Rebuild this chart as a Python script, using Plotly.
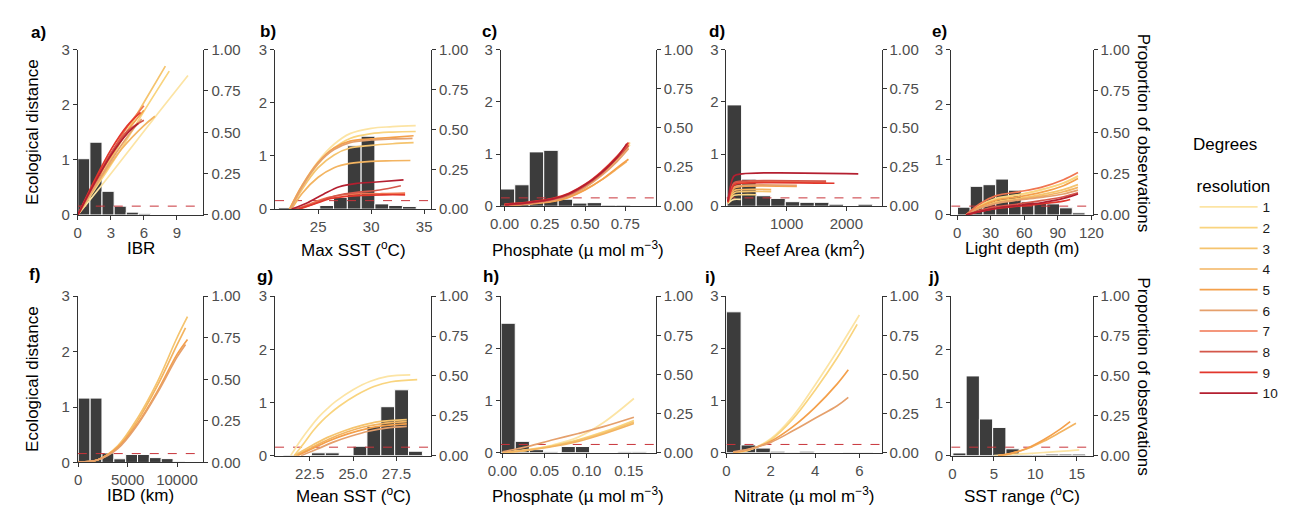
import plotly.graph_objects as go

W, H = 1290, 513

# ---------------- shared ----------------
RESOLUTIONS = [1, 2, 3, 4, 5, 6, 7, 8, 9, 10]
RES_COLORS = ["#FCE4A4", "#F9D47E", "#F5C46E", "#F3B461", "#F4A04B",
              "#E5A06C", "#F07550", "#D4574A", "#E2372C", "#B41F30"]
THRESHOLD = 0.16          # dashed reference line (ecological distance)
LEFT_TICKS = [0, 1, 2, 3]
RIGHT_TICKS = [0, 0.25, 0.5, 0.75, 1.0]

PANEL_LETTERS = ["a)", "b)", "c)", "d)", "e)", "f)", "g)", "h)", "i)", "j)"]
X_TITLES = ["IBR", "Max SST (<sup>o</sup>C)", "Phosphate (\u00b5 mol m<sup>\u22123</sup>)",
            "Reef Area (km<sup>2</sup>)", "Light depth (m)", "IBD (km)",
            "Mean SST (<sup>o</sup>C)", "Phosphate (\u00b5 mol m<sup>\u22123</sup>)",
            "Nitrate (\u00b5 mol m<sup>\u22123</sup>)", "SST range (<sup>o</sup>C)"]
X_RANGES = [[0, 11.4], [20.93, 35.65], [-0.024, 0.94], [-10, 2590], [-5.3, 121],
            [-50, 12670], [20.5, 29.5], [-0.002, 0.182], [0, 7.0], [-0.15, 16.9]]
X_TICKS = [[0, 3, 6, 9], [25, 30, 35], [0, 0.25, 0.5, 0.75], [1000, 2000],
           [0, 30, 60, 90, 120], [0, 5000, 10000], [22.5, 25.0, 27.5],
           [0, 0.05, 0.10, 0.15], [0, 2, 4, 6], [0, 5, 10, 15]]
X_TICKFORMAT = ["d", "d", ".2f", "d", "d", "d", ".1f", ".2f", "d", "d"]

# ---------------- histograms (proportion of observations) ----------------
A_BINS = [0.55, 1.65, 2.75, 3.85, 4.95, 6.05]
A_PROP = [0.34, 0.44, 0.143, 0.053, 0.017, 0.007]
A_WIDTH = 1.1

B_BINS = [21.9, 23.2, 24.5, 25.8, 27.1, 28.4, 29.7, 31.0, 32.3, 33.6]
B_PROP = [0.01, 0.0, 0.0, 0.023, 0.073, 0.397, 0.457, 0.033, 0.023, 0.017]
B_WIDTH = 1.3

C_BINS = [0.018, 0.108, 0.198, 0.288, 0.378, 0.468, 0.558, 0.648, 0.738]
C_PROP = [0.11, 0.137, 0.347, 0.357, 0.045, 0.02, 0.023, 0.007, 0.007]
C_WIDTH = 0.09

D_BINS = [122, 366, 610, 854, 1098, 1342, 1586, 1830, 2074, 2318]
D_PROP = [0.647, 0.173, 0.067, 0.05, 0.029, 0.025, 0.025, 0.013, 0.0, 0.013]
D_WIDTH = 244

E_BINS = [6, 17.4, 28.8, 40.2, 51.6, 63.0, 74.4, 85.8, 97.2, 108.6]
E_PROP = [0.047, 0.173, 0.183, 0.217, 0.15, 0.08, 0.073, 0.067, 0.043, 0.013]
E_WIDTH = 11.4

F_BINS = [600, 1800, 3000, 4200, 5400, 6600, 7800, 9000, 10200]
F_PROP = [0.387, 0.387, 0.057, 0.022, 0.048, 0.048, 0.029, 0.023, 0.004]
F_WIDTH = 1200

G_BINS = [21.4, 22.2, 23.0, 23.8, 24.6, 25.4, 26.2, 27.0, 27.8, 28.6]
G_PROP = [0.004, 0.0, 0.018, 0.018, 0.004, 0.059, 0.183, 0.307, 0.413, 0.028]
G_WIDTH = 0.8

H_BINS = [0.0068, 0.0236, 0.0404, 0.0572, 0.0782, 0.095, 0.1118, 0.1286, 0.1454, 0.1622]
H_PROP = [0.827, 0.073, 0.02, 0.007, 0.04, 0.04, 0.0, 0.0, 0.007, 0.007]
H_WIDTH = 0.0168

I_BINS = [0.33, 0.99, 1.65, 2.31, 2.97, 3.63, 4.29, 4.95, 5.61, 6.27]
I_PROP = [0.9, 0.05, 0.03, 0.01, 0.003, 0.01, 0.0, 0.0, 0.003, 0.003]
I_WIDTH = 0.66

J_BINS = [0.85, 2.45, 4.05, 5.65, 7.25, 8.85, 10.45, 12.05, 13.65, 15.25]
J_PROP = [0.017, 0.5, 0.23, 0.177, 0.043, 0.007, 0.007, 0.01, 0.01, 0.01]
J_WIDTH = 1.6

# ---------------- fitted curves (ecological distance), by resolution ----------------
A_LINES = {
    1: ([0, 2.5, 5, 7.5, 10.0], [0, 0.62, 1.26, 1.9, 2.53]),
    2: ([0, 2, 4, 6, 8.3], [0, 0.6, 1.22, 1.88, 2.61]),
    3: ([0, 2, 4, 6, 7.95], [0, 0.66, 1.36, 2.04, 2.70]),
    4: ([0, 2, 4, 6, 7.0], [0, 0.64, 1.2, 1.62, 1.79]),
    5: ([0, 1.5, 3, 4.5, 6.0], [0, 0.55, 1.06, 1.52, 1.9]),
    6: ([0, 1.5, 3, 4.5, 5.8], [0, 0.5, 0.98, 1.42, 1.74]),
    7: ([0, 1.5, 3, 4.5, 6.0], [0, 0.56, 1.1, 1.6, 1.98]),
    8: ([0, 1.5, 3, 4.5, 6.0], [0, 0.58, 1.12, 1.52, 1.72]),
    9: ([0, 1.5, 3, 4.5, 5.7], [0, 0.62, 1.18, 1.62, 1.86]),
    10: ([0, 1.5, 3, 4.5, 5.5], [0, 0.57, 1.08, 1.48, 1.66]),
}
B_LINES = {
    1: ([22.3, 23.5, 25, 26.5, 28, 30, 32, 34.2], [0, 0.45, 0.9, 1.22, 1.42, 1.52, 1.55, 1.57]),
    2: ([22.3, 23.5, 25, 26.5, 28, 30, 32, 34.2], [0, 0.42, 0.85, 1.15, 1.33, 1.42, 1.45, 1.46]),
    3: ([22.4, 23.5, 25, 26.5, 28, 30, 32, 34.0], [0, 0.38, 0.78, 1.02, 1.15, 1.2, 1.23, 1.25]),
    4: ([22.5, 23.5, 25, 26.5, 28, 30, 32, 33.7], [0, 0.3, 0.6, 0.78, 0.86, 0.9, 0.91, 0.915]),
    5: ([22.3, 23.5, 25, 26.5, 28, 30, 32, 34.0], [0, 0.45, 0.88, 1.15, 1.28, 1.32, 1.35, 1.38]),
    6: ([22.4, 23.5, 25, 26.5, 28, 30, 32, 33.9], [0, 0.43, 0.86, 1.12, 1.25, 1.3, 1.32, 1.33]),
    7: ([23.0, 24.5, 26, 27.5, 29, 31, 33.2], [0, 0.12, 0.22, 0.27, 0.29, 0.29, 0.30]),
    8: ([22.8, 24.3, 25.8, 27.3, 28.8, 30.8, 32.8], [0, 0.08, 0.2, 0.28, 0.32, 0.36, 0.44]),
    9: ([23.2, 24.7, 26.2, 27.7, 29.2, 31.2, 33.2], [0, 0.1, 0.2, 0.24, 0.26, 0.27, 0.27]),
    10: ([22.5, 24, 25.5, 27, 28.5, 30.5, 33.05], [0, 0.12, 0.28, 0.42, 0.48, 0.51, 0.55]),
}
C_LINES = {
    1: ([0.0, 0.15, 0.3, 0.4, 0.5, 0.6, 0.7, 0.78], [0.03, 0.05, 0.1, 0.19, 0.36, 0.6, 0.9, 1.18]),
    2: ([0.0, 0.15, 0.3, 0.4, 0.5, 0.6, 0.7, 0.78], [0.02, 0.05, 0.11, 0.2, 0.38, 0.62, 0.93, 1.22]),
    3: ([0.0, 0.15, 0.3, 0.4, 0.5, 0.6, 0.7, 0.77], [0.03, 0.06, 0.12, 0.21, 0.37, 0.6, 0.88, 1.12]),
    4: ([0.0, 0.15, 0.3, 0.4, 0.5, 0.6, 0.7, 0.76], [0.02, 0.05, 0.1, 0.18, 0.32, 0.5, 0.72, 0.86]),
    5: ([0.0, 0.15, 0.3, 0.4, 0.5, 0.6, 0.7, 0.77], [0.02, 0.04, 0.09, 0.17, 0.31, 0.5, 0.74, 0.9]),
    6: ([0.0, 0.15, 0.3, 0.4, 0.5, 0.6, 0.7, 0.77], [0.02, 0.05, 0.11, 0.2, 0.36, 0.58, 0.86, 1.1]),
    7: ([0.0, 0.15, 0.3, 0.4, 0.5, 0.6, 0.7, 0.77], [0.03, 0.07, 0.14, 0.23, 0.4, 0.63, 0.93, 1.18]),
    8: ([0.0, 0.15, 0.3, 0.4, 0.5, 0.6, 0.7, 0.77], [0.02, 0.06, 0.13, 0.22, 0.39, 0.62, 0.92, 1.16]),
    9: ([0.0, 0.15, 0.3, 0.4, 0.5, 0.6, 0.7, 0.77], [0.04, 0.08, 0.15, 0.25, 0.42, 0.66, 0.96, 1.22]),
    10: ([0.0, 0.15, 0.3, 0.4, 0.5, 0.6, 0.7, 0.76], [0.03, 0.07, 0.14, 0.24, 0.41, 0.64, 0.94, 1.2]),
}
D_LINES = {
    1: ([15, 60, 120, 230], [0.05, 0.1, 0.13, 0.13]),
    2: ([15, 60, 120, 250, 490], [0.06, 0.15, 0.21, 0.22, 0.22]),
    3: ([15, 60, 120, 250, 740], [0.06, 0.18, 0.26, 0.28, 0.28]),
    4: ([15, 60, 120, 250, 740], [0.07, 0.21, 0.3, 0.32, 0.32]),
    5: ([15, 60, 120, 250, 1170], [0.07, 0.24, 0.35, 0.38, 0.38]),
    6: ([15, 60, 120, 250, 1170], [0.08, 0.26, 0.37, 0.40, 0.40]),
    7: ([15, 60, 120, 250, 1660], [0.08, 0.3, 0.43, 0.46, 0.46]),
    8: ([15, 60, 120, 250, 1660], [0.08, 0.3, 0.45, 0.48, 0.48]),
    9: ([15, 60, 120, 250, 1800], [0.08, 0.28, 0.41, 0.44, 0.44]),
    10: ([15, 60, 120, 250, 2200], [0.1, 0.4, 0.58, 0.62, 0.62]),
}
E_LINES = {
    1: ([8, 20, 35, 55, 75, 95, 108], [0, 0.15, 0.28, 0.36, 0.45, 0.58, 0.71]),
    2: ([8, 20, 35, 55, 75, 95, 108], [0, 0.17, 0.3, 0.37, 0.46, 0.58, 0.70]),
    3: ([8, 20, 35, 55, 75, 95, 108], [0, 0.13, 0.24, 0.3, 0.37, 0.46, 0.55]),
    4: ([8, 20, 35, 55, 75, 95, 108], [0, 0.12, 0.22, 0.28, 0.34, 0.42, 0.50]),
    5: ([8, 20, 35, 55, 75, 95, 108], [0, 0.15, 0.27, 0.33, 0.41, 0.53, 0.66]),
    6: ([8, 20, 35, 55, 75, 95, 108], [0, 0.12, 0.21, 0.27, 0.32, 0.38, 0.45]),
    7: ([8, 20, 35, 55, 75, 95, 108], [0, 0.2, 0.35, 0.42, 0.5, 0.64, 0.77]),
    8: ([8, 20, 35, 55, 75, 95, 108], [0, 0.08, 0.15, 0.2, 0.26, 0.33, 0.40]),
    9: ([8, 20, 35, 55, 75, 95, 101], [0, 0.06, 0.12, 0.16, 0.2, 0.25, 0.28]),
    10: ([8, 20, 35, 55, 75, 95, 108], [0, 0.06, 0.12, 0.17, 0.22, 0.3, 0.38]),
}
F_LINES = {
    3: ([0, 2000, 4000, 6000, 8000, 10000, 11060], [0.01, 0.05, 0.3, 0.8, 1.45, 2.25, 2.63]),
    4: ([0, 2000, 4000, 6000, 8000, 10000, 10860], [0.01, 0.05, 0.28, 0.75, 1.38, 2.12, 2.43]),
    5: ([0, 2000, 4000, 6000, 8000, 10000, 11060], [0.01, 0.05, 0.27, 0.7, 1.28, 1.95, 2.22]),
    6: ([0, 2000, 4000, 6000, 8000, 10000, 10860], [0.01, 0.05, 0.25, 0.68, 1.25, 1.9, 2.13]),
}
G_LINES = {
    1: ([21.4, 22.0, 22.5, 23.0, 23.5, 24.0, 25.0, 26.0, 27.0, 28.3],
        [0, 0.3, 0.52, 0.72, 0.88, 1.02, 1.24, 1.4, 1.49, 1.52]),
    2: ([21.6, 22.2, 22.7, 23.2, 23.7, 24.2, 25.2, 26.2, 27.2, 28.7],
        [0, 0.25, 0.47, 0.65, 0.8, 0.93, 1.14, 1.3, 1.39, 1.43]),
    3: ([21.6, 22.5, 23.5, 24.5, 25.5, 26.5, 28.1], [0, 0.17, 0.34, 0.47, 0.57, 0.64, 0.68]),
    4: ([21.7, 22.6, 23.6, 24.6, 25.6, 26.6, 28.1], [0, 0.15, 0.31, 0.44, 0.54, 0.6, 0.64]),
    5: ([21.8, 22.7, 23.7, 24.7, 25.7, 26.7, 28.1], [0, 0.14, 0.29, 0.41, 0.5, 0.56, 0.6]),
    6: ([22.0, 22.9, 23.9, 24.9, 25.9, 26.9, 28.1], [0, 0.12, 0.26, 0.37, 0.46, 0.52, 0.55]),
}
H_LINES = {
    1: ([0.0, 0.03, 0.06, 0.09, 0.12, 0.156], [0.0, 0.05, 0.15, 0.3, 0.58, 1.04]),
    2: ([0.0, 0.03, 0.06, 0.09, 0.12, 0.156], [0.0, 0.06, 0.14, 0.25, 0.4, 0.62]),
    3: ([0.0, 0.03, 0.06, 0.09, 0.12, 0.156], [0.0, 0.05, 0.13, 0.24, 0.38, 0.59]),
    4: ([0.0, 0.03, 0.06, 0.09, 0.12, 0.156], [0.0, 0.05, 0.12, 0.22, 0.36, 0.56]),
    6: ([0.0, 0.03, 0.06, 0.09, 0.12, 0.156], [0.02, 0.12, 0.25, 0.37, 0.5, 0.68]),
}
I_LINES = {
    1: ([0.3, 1, 2, 3, 4, 5, 6.0], [0, 0.05, 0.27, 0.7, 1.3, 1.95, 2.64]),
    2: ([0.3, 1, 2, 3, 4, 5, 5.9], [0, 0.05, 0.25, 0.65, 1.2, 1.82, 2.46]),
    5: ([0.3, 1, 2, 3, 4, 5, 5.5], [0, 0.06, 0.22, 0.5, 0.87, 1.32, 1.59]),
    6: ([0.3, 1, 2, 3, 4, 5, 5.5], [0.02, 0.07, 0.2, 0.42, 0.66, 0.9, 1.06]),
}
J_LINES = {
    1: ([5.0, 8, 11, 13, 15.3], [0.0, 0.03, 0.06, 0.08, 0.11]),
    4: ([5.5, 7, 9, 11, 13, 14.9], [0, 0.04, 0.13, 0.27, 0.44, 0.61]),
    5: ([5.5, 7, 9, 11, 13, 14.2], [0, 0.04, 0.14, 0.3, 0.5, 0.64]),
}

HISTS = [(A_BINS, A_PROP, A_WIDTH), (B_BINS, B_PROP, B_WIDTH), (C_BINS, C_PROP, C_WIDTH),
         (D_BINS, D_PROP, D_WIDTH), (E_BINS, E_PROP, E_WIDTH), (F_BINS, F_PROP, F_WIDTH),
         (G_BINS, G_PROP, G_WIDTH), (H_BINS, H_PROP, H_WIDTH), (I_BINS, I_PROP, I_WIDTH),
         (J_BINS, J_PROP, J_WIDTH)]
LINES = [A_LINES, B_LINES, C_LINES, D_LINES, E_LINES, F_LINES, G_LINES, H_LINES, I_LINES, J_LINES]

# ---------------- layout geometry (pixels) ----------------
COL_X = [(66, 194), (267, 426), (497, 655), (727, 885), (956, 1100)]
PANEL_Y = [(42, 213), (42, 207), (42, 204), (42, 204), (42, 213),
           (297, 469), (297, 462), (297, 459), (297, 459), (297, 462)]
LABEL_POS = [(26, 24), (260, 23), (486, 23), (717, 23), (944, 23),
             (22, 275), (257, 277), (487, 277), (710, 278), (938, 278)]
XTITLE_Y = [248, 503]

FONT = "Liberation Sans, Arial, sans-serif"
AXIS_COL = "#333333"
TICK_COL = "#4D4D4D"

fig = go.Figure()
layout = {}
annotations = []

for i in range(10):
    k = i + 1
    col = i % 5
    row = i // 5
    x0, x1 = COL_X[col]
    yt, yb = PANEL_Y[i]
    xa = "xaxis" if k == 1 else f"xaxis{k}"
    ya = "yaxis" if k == 1 else f"yaxis{k}"
    yo = f"yaxis{k + 10}"
    common = dict(showline=True, linecolor=AXIS_COL, linewidth=1, ticks="outside",
                  ticklen=4, tickcolor=AXIS_COL, tickwidth=1, showgrid=False,
                  zeroline=False, tickfont=dict(family=FONT, size=15, color=TICK_COL),
                  fixedrange=True)
    layout[xa] = dict(domain=[x0 / W, x1 / W], range=X_RANGES[i], anchor=f"y{k}",
                      tickvals=X_TICKS[i], tickformat=X_TICKFORMAT[i], **common)
    layout[ya] = dict(domain=[1 - yb / H, 1 - yt / H], range=[0, 1], side="right",
                      anchor=f"x{k}", tickvals=RIGHT_TICKS, tickformat=".2f", **common)
    layout[yo] = dict(overlaying=f"y{k}", side="left", range=[0, 3], anchor=f"x{k}",
                      tickvals=LEFT_TICKS, tickformat="d", **common)

    bins, props, width = HISTS[i]
    fig.add_trace(go.Bar(x=bins, y=props, width=width, xaxis=f"x{k}", yaxis=f"y{k}",
                         marker=dict(color="#3C3C3C", line=dict(color="white", width=1)),
                         showlegend=False, hoverinfo="skip"))
    fig.add_trace(go.Scatter(x=X_RANGES[i], y=[THRESHOLD, THRESHOLD], mode="lines",
                             xaxis=f"x{k}", yaxis=f"y{k + 10}",
                             line=dict(color="#C8343A", width=1, dash="dash"),
                             showlegend=False, hoverinfo="skip"))
    for r, (xs, ys) in LINES[i].items():
        fig.add_trace(go.Scatter(x=xs, y=ys, mode="lines", xaxis=f"x{k}", yaxis=f"y{k + 10}",
                                 line=dict(color=RES_COLORS[r - 1], width=1.7, shape="spline"),
                                 name=str(r), legendgroup=str(r), showlegend=(k == 1)))

    lx, ly = LABEL_POS[i]
    annotations.append(dict(text=f"<b>{PANEL_LETTERS[i]}</b>", x=lx / W, y=1 - ly / H,
                            xref="paper", yref="paper", showarrow=False,
                            font=dict(family=FONT, size=17, color="black"),
                            xanchor="center", yanchor="middle"))
    annotations.append(dict(text=X_TITLES[i], x=(x0 + x1) / 2 / W, y=1 - XTITLE_Y[row] / H,
                            xref="paper", yref="paper", showarrow=False,
                            font=dict(family=FONT, size=17, color="black"),
                            xanchor="center", yanchor="middle"))

for row in range(2):
    yt, yb = PANEL_Y[row * 5]
    annotations.append(dict(text="Ecological distance", x=20 / W, y=1 - (yt + yb) / 2 / H,
                            xref="paper", yref="paper", showarrow=False, textangle=-90,
                            font=dict(family=FONT, size=17, color="black"),
                            xanchor="center", yanchor="middle"))
    yt, yb = PANEL_Y[row * 5 + 4]
    annotations.append(dict(text="Proportion of observations", x=1152 / W,
                            y=1 - (yt + yb) / 2 / H, xref="paper", yref="paper",
                            showarrow=False, textangle=90,
                            font=dict(family=FONT, size=17, color="black"),
                            xanchor="center", yanchor="middle"))

# first line of the legend heading
annotations.append(dict(text="Degrees", x=1200 / W, y=1 - 140 / H, xref="paper", yref="paper",
                        showarrow=False, font=dict(family=FONT, size=17, color="black"),
                        xanchor="left", yanchor="middle"))

fig.update_layout(**layout)
fig.update_layout(
    width=W, height=H, margin=dict(l=0, r=0, t=0, b=0),
    paper_bgcolor="white", plot_bgcolor="white",
    barmode="overlay", annotations=annotations,
    font=dict(family=FONT),
    legend=dict(x=1204 / W, y=1 - 166 / H, xanchor="left", yanchor="top",
                title=dict(text="resolution",
                           font=dict(family=FONT, size=17, color="black")),
                font=dict(family=FONT, size=13.6, color="#1A1A1A"),
                bgcolor="rgba(0,0,0,0)", itemwidth=58, tracegroupgap=0),
)

fig.write_html("out.html")
